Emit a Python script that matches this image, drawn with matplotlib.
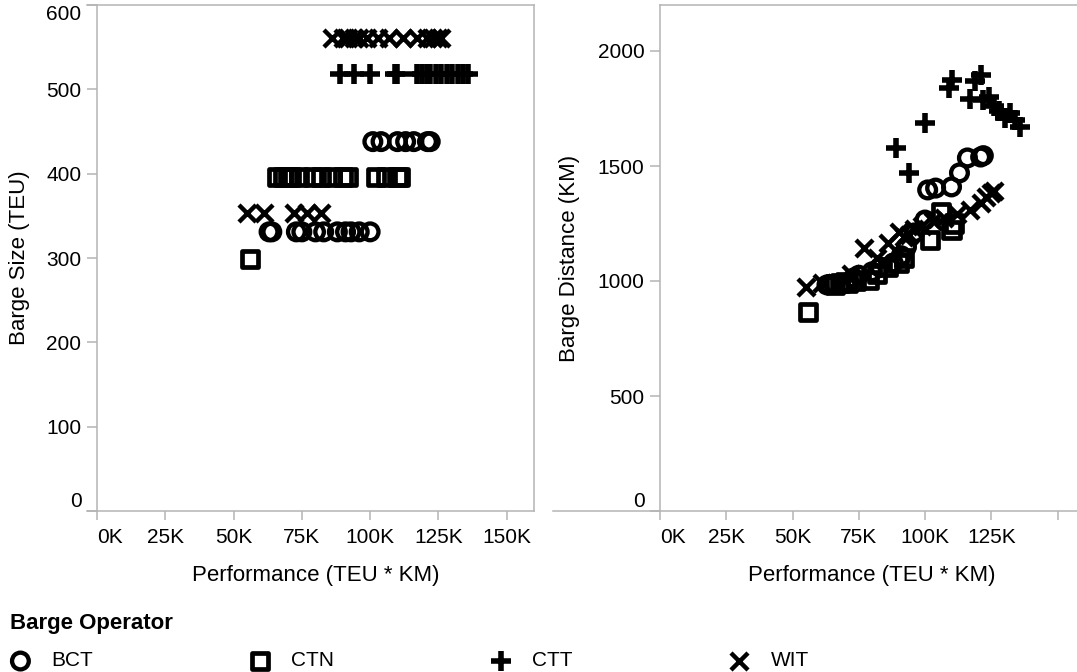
import matplotlib
matplotlib.use('Agg')
import matplotlib.pyplot as plt
from matplotlib.ticker import FixedLocator

plt.rcParams['font.family'] = ['Liberation Sans', 'DejaVu Sans']

# ── data: performance (TEU*KM), barge size (TEU), barge distance (KM) ──
bct_perf = [63000, 64000, 73000, 75000, 80000, 83000, 88000, 91000, 93000, 96000, 100000,
            101000, 104000, 110000, 113000, 116000, 121000, 122000]
bct_size = [331, 331, 331, 331, 331, 331, 331, 331, 331, 331, 331,
            438, 438, 438, 438, 438, 438, 438]
bct_dist = [983, 985, 1013, 1025, 1040, 1060, 1078, 1110, 1148, 1209, 1265,
            1396, 1404, 1409, 1470, 1535, 1539, 1545]

ctn_perf = [56000, 66000, 68000, 70000, 71000, 74000, 79000, 82000, 86000, 90000, 92000,
            102000, 106000, 110000, 111000]
ctn_size = [299, 396, 396, 396, 396, 396, 396, 396, 396, 396, 396, 396, 396, 396, 396]
ctn_dist = [866, 985, 990, 995, 990, 1000, 1005, 1030, 1060, 1080, 1100,
            1180, 1300, 1220, 1250]

ctt_perf = [89000, 94000, 100000, 109000, 110000, 117000, 119000, 121000, 122000,
            124000, 126000, 128000, 130000, 132000, 134000, 136000]
ctt_size = [518, 518, 518, 518, 518, 518, 518, 518, 518, 518, 518, 518, 518, 518, 518, 518]
ctt_dist = [1578, 1470, 1687, 1840, 1874, 1790, 1870, 1895, 1785, 1800, 1760, 1740,
            1710, 1730, 1700, 1670]

wit_perf = [55000, 61000, 72000, 77000, 82000, 86000, 90000, 92000, 94000, 96000, 99000,
            103000, 107000, 112000, 117000, 121000, 123000, 125000, 126000]
wit_size = [353, 353, 353, 353, 353, 561, 561, 561, 561, 561, 561, 561, 561, 561, 561,
            561, 561, 561, 561]
wit_dist = [974, 990, 1030, 1143, 1100, 1165, 1213, 1190, 1200, 1225, 1240, 1260, 1275,
            1290, 1309, 1340, 1365, 1383, 1390]

operators = ['BCT', 'CTN', 'CTT', 'WIT']

x_ticks = [0, 25000, 50000, 75000, 100000, 125000, 150000]
x_labels_left = ['0K', '25K', '50K', '75K', '100K', '125K', '150K']
x_labels_right = ['0K', '25K', '50K', '75K', '100K', '125K', '']
size_ticks = [0, 100, 200, 300, 400, 500, 600]
dist_ticks = [0, 500, 1000, 1500, 2000]

GRAY = '#b4b4b4'
W, H = 1077, 672


def box(l, t, r, b):
    return [l / W, 1 - b / H, (r - l) / W, (b - t) / H]


fig = plt.figure(figsize=(W / 100, H / 100), dpi=100)
axL = fig.add_axes(box(87, 5, 534, 511))
axR = fig.add_axes(box(553, 5, 1084, 511))

styles = {
    'BCT': dict(marker='o', s=145, facecolors='none', edgecolors='black', linewidths=3.1),
    'CTN': dict(marker='s', s=135, facecolors='none', edgecolors='black', linewidths=3.4),
    'CTT': dict(marker='+', s=200, color='black', linewidths=4.0),
    'WIT': dict(marker='x', s=150, color='black', linewidths=3.2),
}
series = {
    'BCT': (bct_perf, bct_size, bct_dist),
    'CTN': (ctn_perf, ctn_size, ctn_dist),
    'CTT': (ctt_perf, ctt_size, ctt_dist),
    'WIT': (wit_perf, wit_size, wit_dist),
}

handles = []
for op in operators:
    perf, size, dist = series[op]
    h = axL.scatter(perf, size, zorder=3, clip_on=False, **styles[op])
    axR.scatter(perf, dist, zorder=3, clip_on=False, **styles[op])
    handles.append(h)


def style_axis(ax, xlim, ylim, yticks, xlabels):
    ax.set_xlim(*xlim)
    ax.set_ylim(*ylim)
    ax.spines['left'].set_position(('data', 0))
    for sp in ax.spines.values():
        sp.set_color(GRAY)
        sp.set_linewidth(1.1)
    ax.xaxis.set_major_locator(FixedLocator(x_ticks))
    ax.set_xticklabels(xlabels)
    ax.yaxis.set_major_locator(FixedLocator(yticks))
    ax.set_yticklabels([str(v) for v in yticks])
    ax.tick_params(axis='both', direction='out', color=GRAY, width=1.1,
                   labelsize=15, labelcolor='black')
    ax.tick_params(axis='x', length=6.5, pad=6)
    ax.tick_params(axis='y', length=7.2, pad=4)
    ax.get_xticklabels()[0].set_ha('left')
    ax.get_yticklabels()[0].set_va('bottom')


style_axis(axL, (-3660, 160000), (0, 600), size_ticks, x_labels_left)
axL.get_yticklabels()[-1].set_va('top')

style_axis(axR, (-40400, 160000), (0, 2200), dist_ticks, x_labels_right)
axR.spines['top'].set_bounds(0, 160000)

fig.text(316 / W, 1 - 575 / H, 'Performance (TEU * KM)', ha='center', va='center', fontsize=16)
fig.text(872 / W, 1 - 575 / H, 'Performance (TEU * KM)', ha='center', va='center', fontsize=16)
fig.text(20 / W, 1 - 258 / H, 'Barge Size (TEU)', ha='center', va='center',
         rotation=90, fontsize=16)
fig.text(570 / W, 1 - 258 / H, 'Barge Distance (KM)', ha='center', va='center',
         rotation=90, fontsize=16)

# legend: bold title line, then one row of operators
fig.text(10 / W, 1 - 624 / H, 'Barge Operator', ha='left', va='center',
         fontsize=16, fontweight='bold')
fig.legend(handles, operators, loc='center left', bbox_to_anchor=(10 / W, 1 - 661 / H),
           ncol=4, frameon=False, fontsize=15,
           borderpad=0, borderaxespad=0, handlelength=1.0, handletextpad=1.0,
           columnspacing=7.5, scatterpoints=1)

fig.savefig('out.png', dpi=100, facecolor='white')
